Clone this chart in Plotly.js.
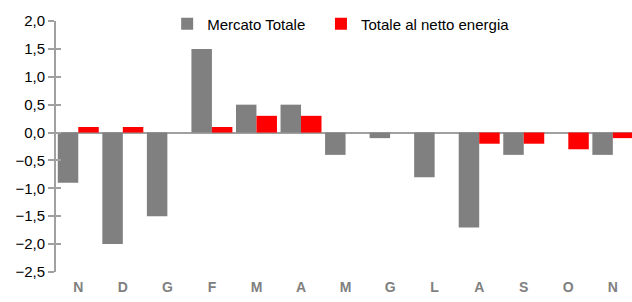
<!DOCTYPE html>
<html>
<head>
<meta charset="utf-8">
<script src="https://cdn.plot.ly/plotly-3.0.1.min.js"></script>
<style>html,body{margin:0;padding:0;background:#fff;}#chart{width:632px;height:302px;}</style>
</head>
<body>
<div id="chart"></div>
<script>
const categories = ["N","D","G","F","M","A","M","G","L","A","S","O","N"];
const mercatoTotale = [-0.9,-2.0,-1.5,1.5,0.5,0.5,-0.4,-0.1,-0.8,-1.7,-0.4,0.0,-0.4];
const nettoEnergia = [0.1,0.1,0.0,0.1,0.3,0.3,0.0,0.0,0.0,-0.2,-0.2,-0.3,-0.1];
const yTicks = [-2.5,-2.0,-1.5,-1.0,-0.5,0.0,0.5,1.0,1.5,2.0];

const idx = categories.map((c,i)=>i);
const traces = [
  {type:'bar', name:'Mercato Totale', x:idx, y:mercatoTotale, marker:{color:'#808080'}, legend:'legend'},
  {type:'bar', name:'Totale al netto energia', x:idx, y:nettoEnergia, marker:{color:'#FF0000'}, legend:'legend2'},
  {type:'scatter', mode:'markers', x:[0], y:[0], yaxis:'y2', showlegend:false, hoverinfo:'skip', marker:{opacity:0, size:1}}
];
const FONT = 'Liberation Sans, Arial, sans-serif';
const legBase = {orientation:'h', y:0.988, xanchor:'left', yanchor:'middle', font:{size:15}, bgcolor:'rgba(0,0,0,0)'};
const layout = {
  width:632, height:302,
  margin:{l:56, r:0, t:21, b:30, pad:0},
  paper_bgcolor:'#fff', plot_bgcolor:'#fff',
  separators:',.',
  barmode:'group', bargap:0.08, bargroupgap:0,
  font:{family:FONT, size:15, color:'#000'},
  showlegend:true,
  legend:Object.assign({}, legBase, {x:0.193}),
  legend2:Object.assign({}, legBase, {x:0.460}),
  xaxis:{
    tickmode:'array', tickvals:idx, ticktext:categories,
    range:[-0.5,12.43], showgrid:false, zeroline:false, showline:false,
    ticks:'outside', ticklen:2, tickcolor:'rgba(0,0,0,0)',
    tickfont:{family:FONT, size:14, color:'#808080', weight:'bold'},
    fixedrange:true
  },
  yaxis:{
    range:[-2.5,2.0], tickmode:'array', tickvals:yTicks, tickformat:'.1f',
    showgrid:false, showline:true, linecolor:'#A0A0A0', linewidth:2,
    ticks:'outside', ticklen:6, tickcolor:'#A0A0A0', tickwidth:2,
    zeroline:true, zerolinecolor:'#A0A0A0', zerolinewidth:2,
    tickfont:{size:15, color:'#000'}, fixedrange:true
  },
  yaxis2:{
    overlaying:'y', side:'left', range:[-2.5,2.0], tickmode:'array', tickvals:yTicks,
    showgrid:false, showline:false, zeroline:false, showticklabels:false,
    ticks:'inside', ticklen:5, tickcolor:'#A0A0A0', tickwidth:2, fixedrange:true
  }
};
Plotly.newPlot('chart', traces, layout, {displayModeBar:false, staticPlot:true});
</script>
</body>
</html>
